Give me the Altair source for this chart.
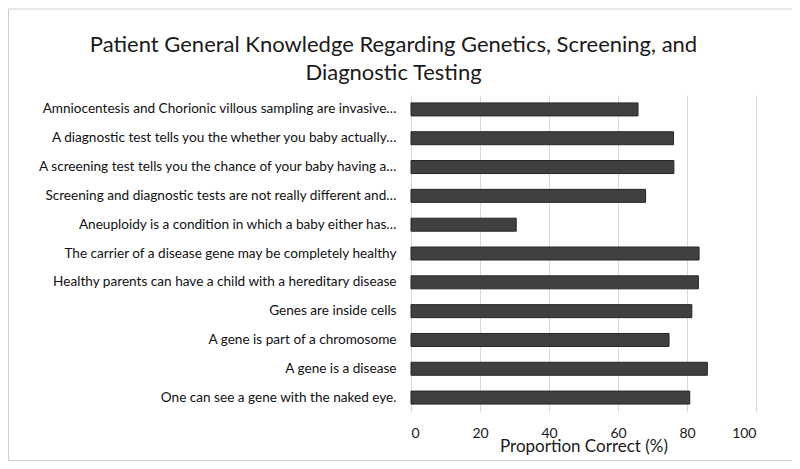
import altair as alt
import pandas as pd

questions = [
    "Amniocentesis and Chorionic villous sampling are invasive…",
    "A diagnostic test tells you the whether you baby actually…",
    "A screening test tells you the chance of your baby having a…",
    "Screening and diagnostic tests are not really different and…",
    "Aneuploidy is a condition in which a baby either has…",
    "The carrier of a disease gene may be completely healthy",
    "Healthy parents can have a child with a hereditary disease",
    "Genes are inside cells",
    "A gene is part of a chromosome",
    "A gene is a disease",
    "One can see a gene with the naked eye.",
]
correct = [65.8, 76.1, 76.2, 68.0, 30.5, 83.5, 83.3, 81.4, 74.8, 85.9, 80.8]

df = pd.DataFrame({"question": questions, "correct": correct})

FONT = "Lato"

bars = alt.Chart(df).mark_bar(size=13, color="#404040", stroke="#262626", strokeWidth=1).encode(
    x=alt.X(
        "correct:Q",
        scale=alt.Scale(domain=[0, 100]),
        axis=alt.Axis(
            values=[0, 20, 40, 60, 80, 100],
            title="Proportion Correct (%)",
            titleFont=FONT,
            titleFontSize=17,
            titleFontWeight="normal",
            titleColor="#1a1a1a",
            titleY=39,
            titleBaseline="alphabetic",
            labelFont=FONT,
            labelFontSize=14,
            labelColor="#1a1a1a",
            labelPadding=14,
            ticks=False,
            domain=False,
            grid=True,
            gridColor="#d9d9d9",
            gridWidth=1,
        ),
    ),
    y=alt.Y(
        "question:N",
        sort=questions,
        scale=alt.Scale(paddingInner=0.5, paddingOuter=0.25),
        axis=alt.Axis(
            title=None,
            labelFont=FONT,
            labelFontSize=13.6,
            labelColor="#111111",
            labelPadding=15,
            labelLimit=400,
            ticks=False,
            domain=False,
            grid=False,
        ),
    ),
)

frame = alt.Chart(alt.Data(values=[{}])).mark_rect(
    filled=False, stroke="#d0d0d0", strokeWidth=1
).encode(
    x=alt.value(-402.5),
    x2=alt.value(381.5),
    y=alt.value(-86),
    y2=alt.value(365.5),
)

chart = alt.layer(frame, bars).properties(
    width=345,
    height=317,
    title=alt.Title(
        ["Patient General Knowledge Regarding Genetics, Screening, and", "Diagnostic Testing"],
        font=FONT,
        fontSize=22,
        fontWeight="normal",
        color="#1a1a1a",
        anchor="middle",
        dx=-190,
        dy=86,
        lineHeight=28,
        offset=10,
    ),
    autosize=alt.AutoSizeParams(type="none"),
    padding={"left": 403, "top": 87, "right": 36, "bottom": 49},
).configure(background="white").configure_view(stroke=None)

chart.save("out.html", embed_options={"renderer": "svg", "actions": False})
